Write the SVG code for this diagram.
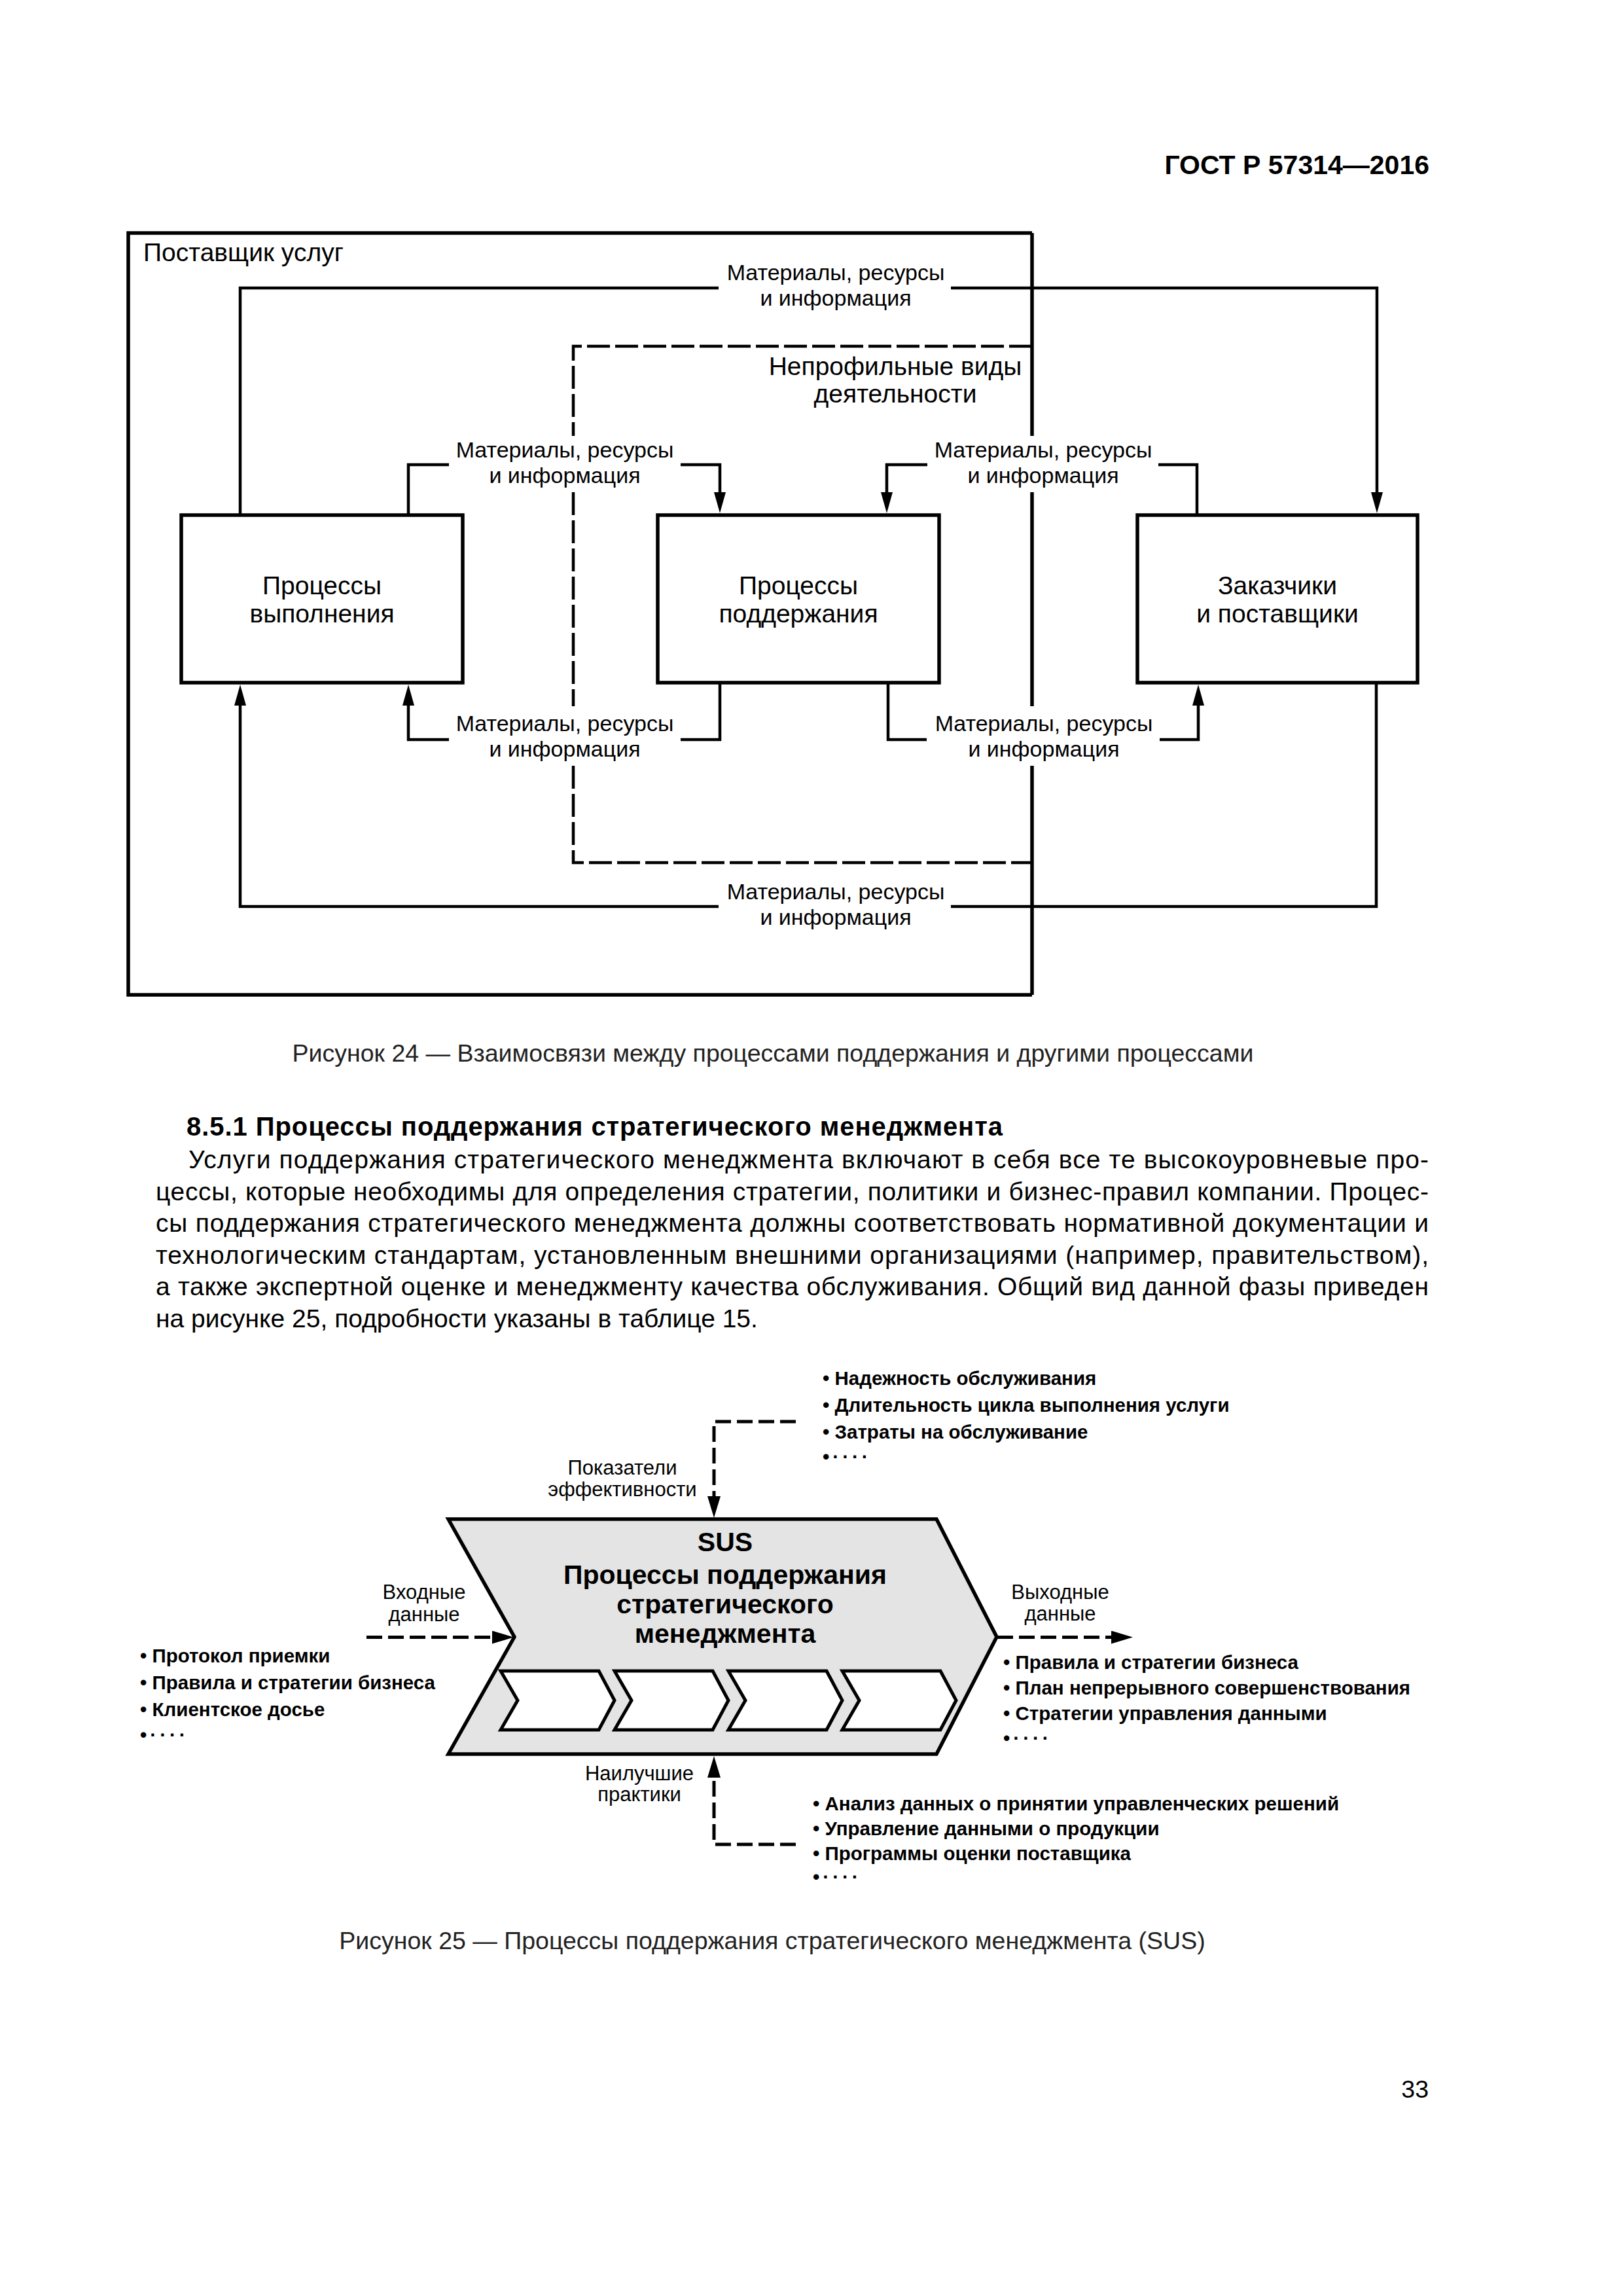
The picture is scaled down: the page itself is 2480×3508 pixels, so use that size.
<svg xmlns="http://www.w3.org/2000/svg" width="2480" height="3508" viewBox="0 0 2480 3508">
<defs>
<style>
text{font-family:"Liberation Sans",Arial,sans-serif;fill:#000}
.hdr{font-size:41px;font-weight:bold}
.big{font-size:39px}
.lbl{font-size:34px}
.cap{font-size:37.5px;fill:#222}
.body{font-size:39px}
.bh{font-size:40px;font-weight:bold}
.t25{font-size:41px;font-weight:bold}
.l25{font-size:31px}
.li{font-size:29.5px;font-weight:bold}
.box{fill:#fff;stroke:#000;stroke-width:5.5}
.frame{fill:none;stroke:#000;stroke-width:5.5}
.ln{fill:none;stroke:#000;stroke-width:4.5}
.dsh{fill:none;stroke:#000;stroke-width:4.5;stroke-dasharray:35 8}
.dsh2{fill:none;stroke:#000;stroke-width:5;stroke-dasharray:24 9}
.chev{fill:#e4e4e4;stroke:#000;stroke-width:5.5;stroke-linejoin:miter}
.sub{fill:#fff;stroke:#000;stroke-width:5}
</style>
<marker id="ah" markerUnits="userSpaceOnUse" markerWidth="32" markerHeight="18" viewBox="0 0 32 18" refX="0" refY="9" orient="auto"><path d="M0,0 L32,9 L0,18 z" fill="#000"/></marker>
<marker id="ah2" markerUnits="userSpaceOnUse" markerWidth="33" markerHeight="20" viewBox="0 0 33 20" refX="0" refY="10" orient="auto"><path d="M0,0 L33,10 L0,20 z" fill="#000"/></marker>
</defs>
<rect width="2480" height="3508" fill="#fff"/>

<text class="hdr" x="2184" y="266" text-anchor="end">ГОСТ Р 57314—2016</text>

<!-- Figure 24 -->
<g id="provider-frame">
<path class="frame" d="M1577,356 H196 V1520 H1577"/>
<path class="frame" d="M1577,356 V666 M1577,752 V1079 M1577,1170 V1520"/>
<text class="big" x="219" y="399">Поставщик услуг</text>
</g>
<g id="noncore">
<path class="dsh" d="M1577,529 H876 V666"/>
<path class="dsh" d="M876,752 V1079"/>
<path class="dsh" d="M876,1170 V1318 H1577"/>
<text class="big" x="1368" y="573" text-anchor="middle">Непрофильные виды</text>
<text class="big" x="1368" y="615" text-anchor="middle">деятельности</text>
</g>
<g id="exec-processes">
<rect class="box" x="277" y="787" width="430" height="256"/>
<text class="big" x="492" y="908" text-anchor="middle">Процессы</text>
<text class="big" x="492" y="951" text-anchor="middle">выполнения</text>
</g>
<g id="support-processes">
<rect class="box" x="1005" y="787" width="430" height="256"/>
<text class="big" x="1220" y="908" text-anchor="middle">Процессы</text>
<text class="big" x="1220" y="951" text-anchor="middle">поддержания</text>
</g>
<g id="customers">
<rect class="box" x="1738" y="787" width="428" height="256"/>
<text class="big" x="1952" y="908" text-anchor="middle">Заказчики</text>
<text class="big" x="1952" y="951" text-anchor="middle">и поставщики</text>
</g>
<g id="connectors24">
<path class="ln" d="M367,787 V440 H1098"/>
<path class="ln" d="M1453,440 H2104 V752" marker-end="url(#ah)"/>
<path class="ln" d="M624,787 V710 H686"/>
<path class="ln" d="M1040,710 H1100 V752" marker-end="url(#ah)"/>
<path class="ln" d="M1829,787 V710 H1770"/>
<path class="ln" d="M1417,710 H1355 V752" marker-end="url(#ah)"/>
<path class="ln" d="M1100,1043 V1130 H1040"/>
<path class="ln" d="M686,1130 H624 V1078" marker-end="url(#ah)"/>
<path class="ln" d="M1357,1043 V1130 H1416"/>
<path class="ln" d="M1772,1130 H1831 V1078" marker-end="url(#ah)"/>
<path class="ln" d="M2103,1043 V1385 H1453"/>
<path class="ln" d="M1098,1385 H367 V1078" marker-end="url(#ah)"/>
</g>
<g id="labels24">
<text class="lbl" x="1277" y="428" text-anchor="middle">Материалы, ресурсы</text>
<text class="lbl" x="1277" y="467" text-anchor="middle">и информация</text>
<text class="lbl" x="863" y="699" text-anchor="middle">Материалы, ресурсы</text>
<text class="lbl" x="863" y="738" text-anchor="middle">и информация</text>
<text class="lbl" x="1594" y="699" text-anchor="middle">Материалы, ресурсы</text>
<text class="lbl" x="1594" y="738" text-anchor="middle">и информация</text>
<text class="lbl" x="863" y="1117" text-anchor="middle">Материалы, ресурсы</text>
<text class="lbl" x="863" y="1156" text-anchor="middle">и информация</text>
<text class="lbl" x="1595" y="1117" text-anchor="middle">Материалы, ресурсы</text>
<text class="lbl" x="1595" y="1156" text-anchor="middle">и информация</text>
<text class="lbl" x="1277" y="1374" text-anchor="middle">Материалы, ресурсы</text>
<text class="lbl" x="1277" y="1413" text-anchor="middle">и информация</text>
</g>
<text class="cap" x="1181" y="1622" text-anchor="middle">Рисунок 24 — Взаимосвязи между процессами поддержания и другими процессами</text>

<!-- Body text -->
<g id="body-text">
<text class="bh" x="285" y="1735" textLength="1247" lengthAdjust="spacing">8.5.1 Процессы поддержания стратегического менеджмента</text>
<text class="body" x="288" y="1785" textLength="1895" lengthAdjust="spacing">Услуги поддержания стратегического менеджмента включают в себя все те высокоуровневые про-</text>
<text class="body" x="238" y="1833.5" textLength="1945" lengthAdjust="spacing">цессы, которые необходимы для определения стратегии, политики и бизнес-правил компании. Процес-</text>
<text class="body" x="238" y="1882" textLength="1945" lengthAdjust="spacing">сы поддержания стратегического менеджмента должны соответствовать нормативной документации и</text>
<text class="body" x="238" y="1930.5" textLength="1945" lengthAdjust="spacing">технологическим стандартам, установленным внешними организациями (например, правительством),</text>
<text class="body" x="238" y="1979" textLength="1945" lengthAdjust="spacing">а также экспертной оценке и менеджменту качества обслуживания. Общий вид данной фазы приведен</text>
<text class="body" x="238" y="2027.5">на рисунке 25, подробности указаны в таблице 15.</text>
</g>

<!-- Figure 25 -->
<g id="sus">
<polygon class="chev" points="685,2321 1431,2321 1523,2501 1431,2680 685,2680 786,2501"/>
<polygon class="sub" points="765,2553 915,2553 939,2598 915,2643 765,2643 791,2598"/>
<polygon class="sub" points="939,2553 1089,2553 1113,2598 1089,2643 939,2643 965,2598"/>
<polygon class="sub" points="1113,2553 1263,2553 1287,2598 1263,2643 1113,2643 1139,2598"/>
<polygon class="sub" points="1287,2553 1437,2553 1461,2598 1437,2643 1287,2643 1313,2598"/>
<text class="t25" x="1108" y="2370" text-anchor="middle">SUS</text>
<text class="t25" x="1108" y="2420" text-anchor="middle">Процессы поддержания</text>
<text class="t25" x="1108" y="2465" text-anchor="middle">стратегического</text>
<text class="t25" x="1108" y="2510" text-anchor="middle">менеджмента</text>
</g>
<g id="connectors25">
<path class="dsh2" d="M1216,2172 H1091 V2286" marker-end="url(#ah2)"/>
<path class="dsh2" d="M560,2501.5 H752" marker-end="url(#ah2)"/>
<path class="dsh2" d="M1524,2501.5 H1698" marker-end="url(#ah2)"/>
<path class="dsh2" d="M1216,2818 H1091 V2716" marker-end="url(#ah2)"/>
</g>
<g id="labels25">
<text class="l25" x="951" y="2253" text-anchor="middle">Показатели</text>
<text class="l25" x="951" y="2286" text-anchor="middle">эффективности</text>
<text class="l25" x="648" y="2443" text-anchor="middle">Входные</text>
<text class="l25" x="648" y="2477" text-anchor="middle">данные</text>
<text class="l25" x="1620" y="2443" text-anchor="middle">Выходные</text>
<text class="l25" x="1620" y="2476" text-anchor="middle">данные</text>
<text class="l25" x="977" y="2720" text-anchor="middle">Наилучшие</text>
<text class="l25" x="977" y="2752" text-anchor="middle">практики</text>
</g>
<g id="list-kpi">
<text class="li" x="1257" y="2116">• Надежность обслуживания</text>
<text class="li" x="1257" y="2157">• Длительность цикла выполнения услуги</text>
<text class="li" x="1257" y="2198">• Затраты на обслуживание</text>
<text class="li" x="1257" y="2236" letter-spacing="5">•····</text>
</g>
<g id="list-inputs">
<text class="li" x="214" y="2540">• Протокол приемки</text>
<text class="li" x="214" y="2581">• Правила и стратегии бизнеса</text>
<text class="li" x="214" y="2622">• Клиентское досье</text>
<text class="li" x="214" y="2661" letter-spacing="5">•····</text>
</g>
<g id="list-outputs">
<text class="li" x="1533" y="2550">• Правила и стратегии бизнеса</text>
<text class="li" x="1533" y="2589">• План непрерывного совершенствования</text>
<text class="li" x="1533" y="2628">• Стратегии управления данными</text>
<text class="li" x="1533" y="2666" letter-spacing="5">•····</text>
</g>
<g id="list-practices">
<text class="li" x="1242" y="2766">• Анализ данных о принятии управленческих решений</text>
<text class="li" x="1242" y="2804">• Управление данными о продукции</text>
<text class="li" x="1242" y="2842">• Программы оценки поставщика</text>
<text class="li" x="1242" y="2878" letter-spacing="5">•····</text>
</g>
<text class="cap" x="1180" y="2978" text-anchor="middle">Рисунок 25 — Процессы поддержания стратегического менеджмента (SUS)</text>

<text class="cap" x="2183" y="3205" text-anchor="end" style="fill:#000">33</text>
</svg>
